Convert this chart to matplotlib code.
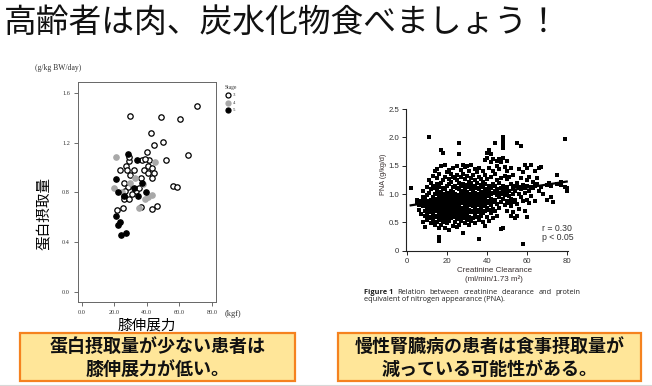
import numpy as np
import matplotlib
matplotlib.use("Agg")
import matplotlib.pyplot as plt
from matplotlib.patches import Rectangle
from matplotlib.lines import Line2D

plt.rcParams['font.family'] = ['Noto Sans CJK JP', 'DejaVu Sans']

W, H = 652, 386

title = "高齢者は肉、炭水化物食べましょう！"

# left chart: knee extension strength (kgf) vs protein intake, by CKD stage
stage3_kgf = [29.7, 49.0, 60.7, 70.8, 42.4, 49.8, 44.5, 65.6, 52.1, 40.0,
              56.4, 58.4, 29.1, 29.3, 27.3, 23.4, 27.7, 32.2, 38.3, 29.7,
              37.1, 41.6, 39.2, 41.0, 43.2, 44.7, 41.0, 43.0, 26.0, 28.5,
              26.6, 26.0, 26.0, 28.9, 33.4, 31.0, 36.3, 46.5, 43.5, 36.3,
              21.9, 25.2, 35.0]
stage3_protein = [1.413, 1.403, 1.392, 1.493, 1.274, 1.202, 1.181, 1.101, 1.060, 1.122,
                  0.852, 0.842, 1.055, 1.087, 1.013, 0.980, 0.980, 0.980, 0.980, 0.940,
                  1.060, 1.060, 1.065, 1.010, 0.995, 0.960, 0.960, 0.920, 0.873, 0.842,
                  0.812, 0.772, 0.745, 0.745, 0.815, 0.788, 0.913, 0.692, 0.665, 0.685,
                  0.663, 0.676, 0.833]
stage4_kgf = [21.1, 45.3, 19.9, 29.7, 33.0, 37.9, 38.9, 41.0, 43.5, 35.0, 25.0]
stage4_protein = [1.087, 1.042, 0.833, 0.874, 0.913, 0.870, 0.745, 0.765, 0.782, 0.675, 0.800]
stage5_kgf = [28.4, 34.0, 21.3, 22.1, 26.2, 32.0, 34.5, 36.9, 39.4, 20.9, 23.6, 22.1, 24.2, 27.4]
stage5_protein = [1.111, 1.060, 0.906, 0.806, 0.774, 0.834, 0.772, 0.874, 0.800, 0.612,
                  0.566, 0.539, 0.460, 0.473]
kgf_ticks = [0, 20, 40, 60, 80]
kgf_labels = ["0.0", "20.0", "40.0", "60.0", "80.0"]
protein_ticks = [0.0, 0.4, 0.8, 1.2, 1.6]
protein_labels = ["0.0", "0.4", "0.8", "1.2", "1.6"]

# right chart: creatinine clearance vs PNA, points listed column by column
ccr_cols = [2, 5, 6, 7, 8, 9, 10, 11, 12, 13, 14, 15, 16, 17, 18, 19, 20, 21, 22, 23,
            24, 25, 26, 27, 28, 29, 30, 31, 32, 33, 34, 35, 36, 37, 38, 39, 40, 41, 42, 43,
            44, 45, 46, 47, 48, 49, 50, 51, 52, 53, 54, 55, 56, 57, 58, 59, 60, 61, 62, 63,
            64, 65, 66, 67, 68, 70, 71, 72, 73, 75, 77, 79, 80]
pna_cols = [
    [1.10],
    [0.85, 0.90],
    [0.80, 0.72],
    [0.88, 0.65],
    [0.50, 0.78, 0.95, 1.05],
    [0.42, 0.62, 0.70, 0.85, 0.92],
    [0.55, 0.75, 0.82, 0.98, 1.12, 0.66],
    [2.00, 0.60, 0.72, 0.88, 1.02, 1.25, 0.80],
    [0.48, 0.58, 0.68, 0.78, 0.90, 1.08, 1.20, 0.84],
    [0.52, 0.64, 0.74, 0.86, 0.95, 1.15, 1.32, 0.70],
    [0.45, 0.60, 0.70, 0.80, 0.88, 1.00, 1.10, 1.40, 0.76],
    [0.50, 0.62, 0.72, 0.78, 0.84, 0.92, 1.05, 1.18, 1.45, 1.28],
    [0.25, 0.20, 0.17, 0.40, 0.55, 0.66, 0.74, 0.82, 0.90, 0.98, 1.12, 1.35],
    [0.45, 0.58, 0.68, 0.72, 0.80, 0.86, 0.94, 1.04, 1.20, 1.50, 1.78, 0.62],
    [0.50, 0.60, 0.70, 0.76, 0.82, 0.88, 1.00, 1.10, 1.25, 1.72, 0.66],
    [0.40, 0.55, 0.64, 0.72, 0.78, 0.84, 0.92, 1.08, 1.30, 1.52, 0.96],
    [0.48, 0.60, 0.68, 0.74, 0.80, 0.86, 0.94, 1.02, 1.14, 1.38, 0.70],
    [0.36, 0.52, 0.62, 0.70, 0.78, 0.85, 0.90, 1.00, 1.18, 1.42, 1.26],
    [0.58, 0.66, 0.72, 0.80, 0.88, 0.96, 1.06, 1.22, 1.35, 0.62],
    [0.44, 0.60, 0.70, 0.76, 0.84, 0.92, 1.04, 1.12, 1.30, 1.46],
    [0.50, 0.62, 0.68, 0.78, 0.86, 0.94, 1.00, 1.15, 1.28, 0.72],
    [0.42, 0.56, 0.66, 0.74, 0.82, 0.90, 0.98, 1.10, 1.24, 1.34, 1.50],
    [0.46, 0.60, 0.70, 0.80, 0.88, 0.96, 1.08, 1.20, 1.70, 1.90, 0.76],
    [0.52, 0.64, 0.72, 0.84, 0.92, 1.02, 1.14, 1.30, 1.42],
    [0.32, 0.58, 0.68, 0.76, 0.86, 0.94, 1.06, 1.18, 1.36, 1.52],
    [0.48, 0.62, 0.74, 0.82, 0.90, 1.00, 1.10, 1.26, 1.48, 0.70],
    [0.55, 0.66, 0.78, 0.88, 0.96, 1.04, 1.16, 1.32, 1.50],
    [0.45, 0.60, 0.72, 0.84, 0.92, 1.00, 1.12, 1.22, 1.40],
    [0.52, 0.68, 0.80, 0.90, 0.98, 1.08, 1.20, 1.28, 1.52],
    [0.58, 0.70, 0.78, 0.88, 0.96, 1.06, 1.14, 1.34],
    [0.48, 0.64, 0.76, 0.86, 0.94, 1.02, 1.12, 1.24, 1.44],
    [0.60, 0.72, 0.82, 0.92, 1.00, 1.10, 1.20, 1.38],
    [0.20, 0.54, 0.68, 0.80, 0.90, 0.98, 1.08, 1.30, 1.46],
    [0.62, 0.74, 0.86, 0.96, 1.04, 1.16, 1.26],
    [0.50, 0.66, 0.78, 0.90, 1.00, 1.12, 1.22, 1.40],
    [0.44, 0.70, 0.82, 0.94, 1.06, 1.18, 1.34, 1.60],
    [0.60, 0.76, 0.88, 0.98, 1.08, 1.26, 1.72, 1.64],
    [0.52, 0.72, 0.84, 0.96, 1.04, 1.14, 1.46, 1.77],
    [0.66, 0.80, 0.92, 1.00, 1.10, 1.30, 1.56, 1.70],
    [0.58, 0.74, 0.86, 1.02, 1.18, 1.40, 1.62],
    [0.70, 0.90, 1.06, 1.14, 1.36, 1.90],
    [0.62, 0.82, 0.98, 1.08, 1.24, 1.50, 1.58],
    [0.76, 0.94, 1.02, 1.20, 1.44, 1.62],
    [0.38, 0.86, 1.00, 1.10, 1.28, 1.56],
    [0.40, 0.92, 1.04, 1.14, 1.64, 1.82, 1.88, 1.95, 2.00],
    [0.80, 0.98, 1.08, 1.32, 1.48],
    [0.70, 0.88, 1.02, 1.12, 1.26, 1.40, 1.58],
    [0.84, 0.96, 1.06, 1.30],
    [0.62, 0.78, 0.92, 1.18, 1.46],
    [0.68, 0.86, 1.00, 1.10, 1.34],
    [0.58, 0.90, 1.06, 1.14],
    [0.62, 0.82, 1.20, 1.90],
    [0.74, 1.00, 1.12, 1.44],
    [0.94, 1.08, 1.28, 1.85],
    [0.12, 0.88, 1.16, 1.38],
    [0.70, 1.02, 1.10, 1.52],
    [0.60, 0.90, 1.14, 1.24, 1.46],
    [0.84, 1.06, 1.30],
    [0.96, 1.12, 1.52],
    [1.10, 1.22],
    [0.88, 1.14, 1.40],
    [1.18, 1.28],
    [1.06, 1.46],
    [1.48, 1.12],
    [1.00],
    [0.90, 1.16],
    [1.20],
    [0.95, 1.14],
    [0.86],
    [1.34, 1.18],
    [1.22, 1.16],
    [1.97, 1.12],
    [1.10, 1.06],
]
fit_ccr = [2, 80]
fit_pna = [0.80, 1.22]
ccr_ticks = [0, 20, 40, 60, 80]
pna_ticks = [0, 0.5, 1.0, 1.5, 2.0, 2.5]
pna_labels = ["0", "0.5", "1.0", "1.5", "2.0", "2.5"]

ccr = [x for x, ys in zip(ccr_cols, pna_cols) for _ in ys]
pna = [y for ys in pna_cols for y in ys]


def fx(x):
    return x / W


def fy(y):
    return 1 - y / H


def rect(l, t, r, b):
    return [l / W, 1 - b / H, (r - l) / W, (b - t) / H]


fig = plt.figure(figsize=(W / 100, H / 100), dpi=100)
fig.patch.set_facecolor("white")

fig.text(fx(4), fy(23), title, fontsize=23.6, ha="left", va="center", color="#111")

# ---- left scatter ----
ax1 = fig.add_axes(rect(78.3, 82, 216, 302))
ax1.scatter(stage3_kgf, stage3_protein, s=15, facecolor="white", edgecolor="black",
            linewidths=0.9, zorder=3)
ax1.scatter(stage4_kgf, stage4_protein, s=15, facecolor="#a8a8a8", edgecolor="#a8a8a8",
            linewidths=0.9, zorder=3)
ax1.scatter(stage5_kgf, stage5_protein, s=15, facecolor="black", edgecolor="black",
            linewidths=0.9, zorder=4)
ax1.set_xlim(-2.1, 82.6)
ax1.set_ylim(-0.078, 1.686)
ax1.set_xticks(kgf_ticks)
ax1.set_xticklabels(kgf_labels)
ax1.set_yticks(protein_ticks)
ax1.set_yticklabels(protein_labels)
ax1.tick_params(length=3, width=0.6, labelsize=4.5, pad=3, color="#555", labelcolor="#333")
for lab in ax1.get_xticklabels() + ax1.get_yticklabels():
    lab.set_family("Liberation Serif")
for s in ax1.spines.values():
    s.set_color("#666")
    s.set_linewidth(0.7)

fig.text(fx(58), fy(67.5), "(g/kg BW/day)", fontsize=5.5, ha="center", va="center",
         family="Liberation Serif", color="#333")
fig.text(fx(233), fy(314), "(kgf)", fontsize=6, ha="center", va="center",
         family="Liberation Serif", color="#333")
fig.text(fx(45), fy(213), "蛋白摂取量", fontsize=10.5, rotation=90, ha="center", va="center")
fig.text(fx(146.5), fy(326), "膝伸展力", fontsize=10.5, ha="center", va="center")

# stage key
fig.text(fx(231), fy(87), "Stage", fontsize=4, ha="center", va="center",
         family="Liberation Serif", color="#333")
key_styles = [("3", "white", "black"), ("4", "#a8a8a8", "#a8a8a8"), ("5", "black", "black")]
for i, (lab, fc, ec) in enumerate(key_styles):
    yy = 95 + i * 7.5
    fig.add_artist(Line2D([fx(228.3)], [fy(yy)], marker="o", markersize=3.6,
                          markerfacecolor=fc, markeredgecolor=ec, markeredgewidth=0.9,
                          linestyle="none"))
    fig.text(fx(233), fy(yy), lab, fontsize=3.5, ha="left", va="center",
             family="Liberation Serif", color="#333")

# ---- right scatter ----
ax2 = fig.add_axes(rect(406.1, 109, 567.7, 250.7))
ax2.scatter(ccr, pna, marker="s", s=5.5, color="black", linewidths=0, clip_on=False, zorder=3)
ax2.plot(fit_ccr, fit_pna, color="black", lw=1.6, zorder=4)
ax2.set_xlim(-0.3, 80.5)
ax2.set_ylim(0, 2.5)
ax2.set_xticks(ccr_ticks)
ax2.set_yticks(pna_ticks)
ax2.set_yticklabels(pna_labels)
ax2.spines["top"].set_visible(False)
ax2.spines["right"].set_visible(False)
for s in ("left", "bottom"):
    ax2.spines[s].set_linewidth(0.8)
    ax2.spines[s].set_color("#222")
ax2.tick_params(length=3, width=0.7, labelsize=5.6, pad=2, color="#222", labelcolor="#333")
for lab in ax2.get_xticklabels() + ax2.get_yticklabels():
    lab.set_family("Liberation Sans")

fig.text(fx(383.5), fy(174), "PNA (g/kg/d)", fontsize=5.2, rotation=90, ha="center", va="center",
         family="Liberation Sans", color="#3a3030")
fig.text(fx(495), fy(270.5), "Creatinine Clearance", fontsize=5.8, ha="center", va="center",
         family="Liberation Sans", color="#3a3030")
fig.text(fx(494), fy(279), "(ml/min/1.73 m²)", fontsize=5.8, ha="center", va="center",
         family="Liberation Sans", color="#3a3030")
fig.text(fx(541.5), fy(228.5), "r = 0.30", fontsize=6.3, ha="left", va="center",
         family="Liberation Sans", color="#333")
fig.text(fx(541.5), fy(237.5), "p < 0.05", fontsize=6.3, ha="left", va="center",
         family="Liberation Sans", color="#333")

# justified caption, first line
renderer = fig.canvas.get_renderer()
cap_words = ["Figure 1", "Relation", "between", "creatinine", "clearance", "and", "protein"]
x0, x1 = 364, 580.7
arts = []
for i, w in enumerate(cap_words):
    t = fig.text(fx(x0), fy(292.5), w, fontsize=5.3, ha="left", va="center",
                 family="Open Sans", color="#222", fontweight="bold" if i == 0 else "normal")
    arts.append(t)
widths = [a.get_window_extent(renderer).width for a in arts]
gap = (x1 - x0 - sum(widths)) / (len(arts) - 1)
pos = x0
for a, wd in zip(arts, widths):
    a.set_x(fx(pos))
    pos += wd + gap
fig.text(fx(x0), fy(299.5), "equivalent of nitrogen appearance (PNA).", fontsize=5.3,
         ha="left", va="center", family="Open Sans", color="#222")

# ---- callout boxes ----
boxes = [
    ((20, 333, 295, 381), ["蛋白摂取量が少ない患者は", "膝伸展力が低い。"]),
    ((338, 333, 641, 381), ["慢性腎臓病の患者は食事摂取量が", "減っている可能性がある。"]),
]
for (l, t, r, b), lines in boxes:
    fig.add_artist(Rectangle((fx(l), fy(b)), (r - l) / W, (b - t) / H, transform=fig.transFigure,
                             facecolor="#FFE699", edgecolor="#F5821F", lw=1.6))
    for j, line in enumerate(lines):
        fig.text(fx((l + r) / 2), fy(346.5 + j * 23), line, fontsize=13, fontweight="bold",
                 ha="center", va="center", color="#111")

fig.add_artist(Line2D([0, 1], [fy(384.5), fy(384.5)], color="#d8d8d8", lw=0.8))

fig.savefig("out.png", dpi=100)
